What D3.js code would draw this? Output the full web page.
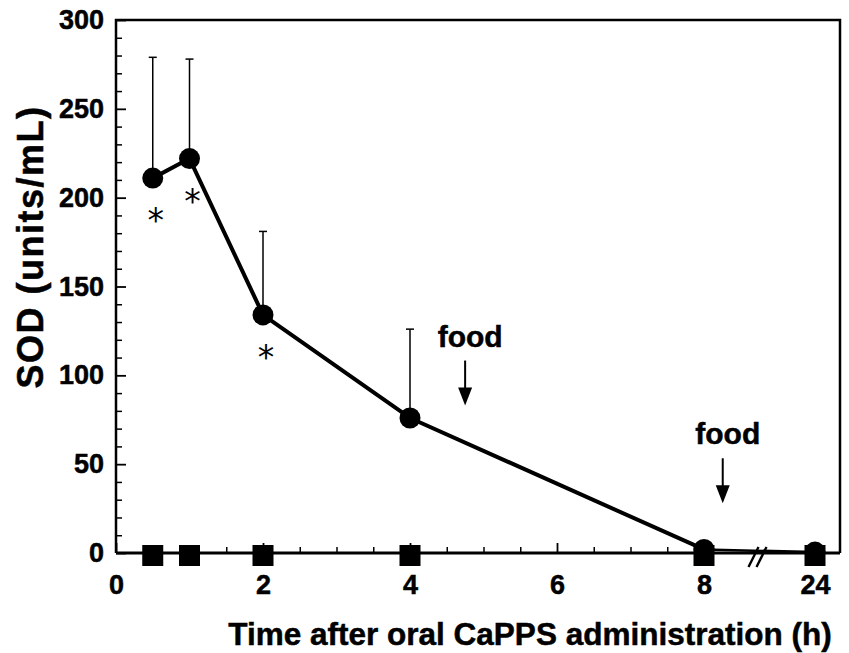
<!DOCTYPE html>
<html>
<head>
<meta charset="utf-8">
<script src="https://cdn.jsdelivr.net/npm/d3@7"></script>
<style>
  html, body { margin: 0; padding: 0; background: #fff; }
  svg { display: block; }
  text { font-family: "Liberation Sans", Arial, Helvetica, sans-serif; font-weight: bold; fill: #000; }
  text.heavy { stroke: #000; stroke-width: 0.5px; }
</style>
</head>
<body>
<svg id="chart" width="849" height="653"></svg>
<script>
// Sampling times after the oral dose (h)
const timeH = [0.5, 1, 2, 4, 8, 24];
// Plasma SOD activity after CaPPS (units/mL): mean and SD
const sodMean = [211, 222, 134, 76, 2, 0.5];
const sodSD = [68, 56, 47, 50, 0, 0];
// Control group (square markers)
const controlMean = [0, 0, 0, 0, 0, 0];
// Significance markers under each CaPPS point
const signif = ["*", "*", "*", "", "", ""];
// Axis ticks
const xTickLabels = [0, 2, 4, 6, 8, 24];
const xMinorTicks = [0.5, 1, 1.5, 2.5, 3, 3.5, 4.5, 5, 5.5, 6.5, 7, 7.5];
const yTickLabels = [0, 50, 100, 150, 200, 250, 300];
const yMinorTicks = d3.range(10, 300, 10).filter(v => v % 50 !== 0);
// Meal times (h) and the arrow tip level (units/mL)
const foodTimes = [4.75, 10.7];
const foodArrowTip = [83, 28];

const svg = d3.select("#chart");
const plotLeft = 116, plotRight = 840, plotTop = 20, plotBottom = 553;

// Linear 0–8 h, then a compressed segment after the axis break up to 24 h
const x = d3.scaleLinear().domain([0, 8, 24]).range([plotLeft, 704, 815]);
const y = d3.scaleLinear().domain([0, 300]).range([plotBottom, plotTop]);

// Minor ticks (inward)
svg.append("g")
  .attr("transform", `translate(0,${plotBottom})`)
  .call(d3.axisBottom(x).tickValues(xMinorTicks).tickSizeInner(-6).tickSizeOuter(0).tickFormat(""))
  .call(g => g.select(".domain").remove())
  .call(g => g.selectAll("line").attr("stroke", "#000").attr("stroke-width", 1.5));
svg.append("g")
  .attr("transform", `translate(${plotLeft},0)`)
  .call(d3.axisLeft(y).tickValues(yMinorTicks).tickSizeInner(-6).tickSizeOuter(0).tickFormat(""))
  .call(g => g.select(".domain").remove())
  .call(g => g.selectAll("line").attr("stroke", "#000").attr("stroke-width", 1.5));

// Major ticks with labels
svg.append("g")
  .attr("transform", `translate(0,${plotBottom})`)
  .call(d3.axisBottom(x).tickValues(xTickLabels).tickSizeInner(-10).tickSizeOuter(0).tickPadding(22))
  .call(g => g.select(".domain").remove())
  .call(g => g.selectAll("line").attr("stroke", "#000").attr("stroke-width", 1.8))
  .call(g => g.selectAll("text").attr("class", "heavy").attr("font-size", 27).attr("font-family", null));
svg.append("g")
  .attr("transform", `translate(${plotLeft},0)`)
  .call(d3.axisLeft(y).tickValues(yTickLabels).tickSizeInner(-10).tickSizeOuter(0).tickPadding(12))
  .call(g => g.select(".domain").remove())
  .call(g => g.selectAll("line").attr("stroke", "#000").attr("stroke-width", 1.8))
  .call(g => g.selectAll("text").attr("class", "heavy").attr("font-size", 27).attr("font-family", null));

// Plot frame
svg.append("path")
  .attr("d", `M${plotLeft},${plotBottom}V${plotTop}H${plotRight}V${plotBottom}`)
  .attr("fill", "none").attr("stroke", "#000").attr("stroke-width", 2.5);
svg.append("line")
  .attr("x1", plotLeft).attr("x2", plotRight).attr("y1", plotBottom).attr("y2", plotBottom)
  .attr("stroke", "#000").attr("stroke-width", 3);

// Axis break between 8 h and 24 h
const xb = (x(8) + x(24)) / 2 - 2;
[-4, 4].forEach(o => {
  svg.append("line")
    .attr("x1", xb + o - 5).attr("y1", plotBottom + 14)
    .attr("x2", xb + o + 5).attr("y2", plotBottom - 6)
    .attr("stroke", "#000").attr("stroke-width", 2.4);
});

const pts = timeH.map((t, i) => ({ t, m: sodMean[i], sd: sodSD[i], c: controlMean[i], s: signif[i] }));

// Error bars (upper half only)
const eb = svg.append("g").attr("stroke", "#000").attr("stroke-width", 1.5);
pts.filter(d => d.sd > 0).forEach(d => {
  eb.append("line").attr("x1", x(d.t)).attr("x2", x(d.t)).attr("y1", y(d.m)).attr("y2", y(d.m + d.sd));
  eb.append("line").attr("x1", x(d.t) - 4).attr("x2", x(d.t) + 4).attr("y1", y(d.m + d.sd)).attr("y2", y(d.m + d.sd));
});

// Mean SOD curve (thinner after the axis break)
const line = d3.line().x(d => x(d.t)).y(d => y(d.m));
svg.append("path")
  .datum(pts.filter(d => d.t <= 8))
  .attr("d", line)
  .attr("fill", "none").attr("stroke", "#000").attr("stroke-width", 4).attr("stroke-linejoin", "round");
svg.append("path")
  .datum(pts.filter(d => d.t >= 8))
  .attr("d", line)
  .attr("fill", "none").attr("stroke", "#000").attr("stroke-width", 2.5);

svg.append("g").selectAll("circle").data(pts).join("circle")
  .attr("cx", d => x(d.t)).attr("cy", d => y(d.m)).attr("r", 10.5).attr("fill", "#000");

// Control group markers
svg.append("g").selectAll("rect").data(pts).join("rect")
  .attr("x", d => x(d.t) - 10.5).attr("y", d => y(d.c) - 8)
  .attr("width", 21).attr("height", 21).attr("fill", "#000");

// Significance asterisks
svg.append("g").selectAll("text").data(pts.filter(d => d.s)).join("text")
  .attr("x", d => x(d.t) + 3).attr("y", d => y(d.m) + 54)
  .attr("text-anchor", "middle")
  .style("font-family", "'DejaVu Sans', sans-serif").style("font-weight", "normal")
  .attr("font-size", 33)
  .text(d => d.s);

// Meal annotations
foodTimes.forEach((t, i) => {
  const ax = x(t), tip = y(foodArrowTip[i]);
  svg.append("text").attr("class", "heavy").attr("x", ax + 5).attr("y", tip - 59)
    .attr("text-anchor", "middle").attr("font-size", 30).text("food");
  svg.append("line").attr("x1", ax).attr("x2", ax).attr("y1", tip - 45).attr("y2", tip - 16)
    .attr("stroke", "#000").attr("stroke-width", 2);
  svg.append("path").attr("d", `M${ax - 7},${tip - 18}L${ax + 7},${tip - 18}L${ax},${tip}Z`).attr("fill", "#000");
});

// Axis titles
svg.append("text").attr("class", "heavy")
  .attr("x", 530).attr("y", 645)
  .attr("text-anchor", "middle").attr("font-size", 31.5)
  .text("Time after oral CaPPS administration (h)");
svg.append("text").attr("class", "heavy")
  .attr("transform", "translate(43,247) rotate(-90)")
  .attr("text-anchor", "middle").attr("font-size", 36)
  .attr("letter-spacing", 1.5)
  .text("SOD (units/mL)");
</script>
</body>
</html>
